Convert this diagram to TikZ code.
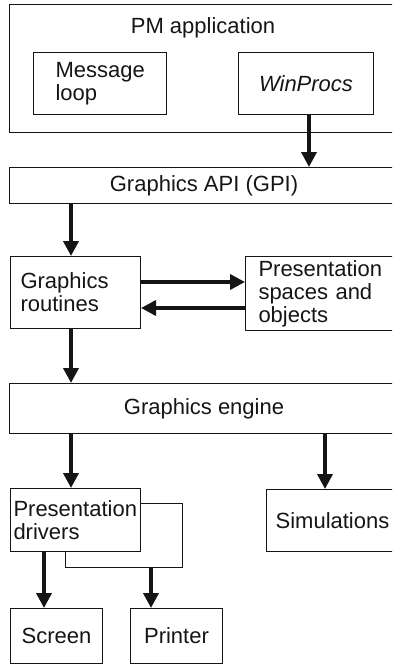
\documentclass[tikz,border=0pt]{standalone}
\usepackage{fontspec}
\usepackage{xcolor}
\usepackage{tikz}
\usetikzlibrary{arrows.meta,positioning}
\newfontfamily\gpifont{Liberation Sans}
\definecolor{GpiInk}{HTML}{151515}
\tikzset{
  >=Triangle,
  layerbox/.style={draw=GpiInk,line width=1pt,inner sep=0pt,anchor=north west,
    font=\gpifont\fontsize{22}{23}\selectfont,text=GpiInk},
  leftbox/.style={layerbox,align=left},
  midbox/.style={layerbox,align=center},
  headtext/.style={font=\gpifont\fontsize{22}{23}\selectfont,text=GpiInk,inner sep=0pt},
  flow/.style={-{Triangle[length=15pt,width=15pt]},line width=3.6pt,draw=GpiInk},
  link/.style={line width=1pt,draw=GpiInk}
}

\begin{document}
\begin{tikzpicture}[x=1pt,y=-1pt]
  \useasboundingbox (0,0) rectangle (392,664);
  \clip (0,0) rectangle (392,664);

  \node[layerbox,minimum width=389pt,minimum height=128pt] (pmapp) at (9,4) {};
  \node[headtext] (pmtitle) at (203,28) {PM application};
  \node[leftbox,minimum width=133pt,minimum height=62pt,text width=89pt] (msgloop) at (33,52) {Message\\loop};
  \node[midbox,minimum width=135pt,minimum height=62pt] (winprocs) at (238,52) {\itshape WinProcs};

  \node[midbox,minimum width=389pt,minimum height=36pt] (gpi) at (9,167) {Graphics API (GPI)};
  \node[leftbox,minimum width=130pt,minimum height=72pt,text width=110pt] (routines) at (10,256) {Graphics\\routines};
  \node[leftbox,minimum width=153pt,minimum height=74pt,text width=127pt] (pspaces) at (245,256) {Presentation\\spaces and\\objects};

  \node[midbox,minimum width=389pt,minimum height=50pt] (engine) at (9,383) {Graphics engine};
  \node[leftbox,minimum width=130pt,minimum height=63pt,text width=124pt] (drivers) at (10,488) {Presentation\\drivers};
  \node[midbox,minimum width=132pt,minimum height=62pt] (simul) at (266,489) {Simulations};

  \node[midbox,minimum width=92pt,minimum height=55pt] (screen) at (10,608) {Screen};
  \node[midbox,minimum width=92pt,minimum height=55pt] (printer) at (130,608) {Printer};

  % arrow columns and rows
  \coordinate (colA) at (71,0);
  \coordinate (colW) at (309,0);
  \coordinate (colS) at (44,0);
  \coordinate (colP) at (151,0);
  \coordinate (colR) at (325,0);
  \coordinate (rowF) at (0,282);
  \coordinate (rowB) at (0,308);
  \coordinate (rowD) at (0,503);
  \coordinate (loopR) at (182,567);
  \coordinate (loopL) at (65,0);

  \draw[flow] (winprocs.south -| colW) -- (gpi.north -| colW);
  \draw[flow] (gpi.south -| colA) -- (routines.north -| colA);
  \draw[flow] (routines.east |- rowF) -- (pspaces.west |- rowF);
  \draw[flow] (pspaces.west |- rowB) -- (routines.east |- rowB);
  \draw[flow] (routines.south -| colA) -- (engine.north -| colA);
  \draw[flow] (engine.south -| colA) -- (drivers.north -| colA);
  \draw[flow] (engine.south -| colR) -- (simul.north -| colR);
  \draw[flow] (drivers.south -| colS) -- (screen.north -| colS);
  \draw[link] (drivers.east |- rowD) -| (loopR) -| (drivers.south -| loopL);
  \draw[flow] (loopR -| colP) -- (printer.north -| colP);
\end{tikzpicture}
\end{document}
